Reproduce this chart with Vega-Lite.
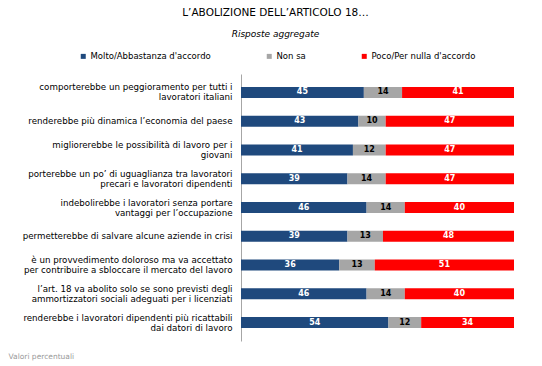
{
  "$schema": "https://vega.github.io/schema/vega-lite/v6.json",
  "autosize": {"type": "none"},
  "padding": {"left": 241, "top": 74, "right": 28, "bottom": 25},
  "width": 273,
  "height": 267,
  "background": "white",
  "config": {
    "view": {"stroke": null},
    "font": "DejaVu Sans"
  },
  "title": {
    "text": "L’ABOLIZIONE DELL’ARTICOLO 18…",
    "subtitle": "Risposte aggregate",
    "anchor": "middle",
    "dx": -102,
    "offset": 13,
    "font": "DejaVu Sans",
    "fontSize": 10.5,
    "fontWeight": "normal",
    "color": "#000000",
    "subtitleFont": "DejaVu Sans",
    "subtitleFontSize": 9,
    "subtitleFontStyle": "italic",
    "subtitleColor": "#000000",
    "subtitlePadding": 12
  },
  "data": {
    "values": [
      {"item": "comporterebbe un peggioramento per tutti i|lavoratori italiani", "risposta": "Molto/Abbastanza d'accordo", "k": 1, "v": 45},
      {"item": "comporterebbe un peggioramento per tutti i|lavoratori italiani", "risposta": "Non sa", "k": 2, "v": 14},
      {"item": "comporterebbe un peggioramento per tutti i|lavoratori italiani", "risposta": "Poco/Per nulla d'accordo", "k": 3, "v": 41},
      {"item": "renderebbe più dinamica l’economia del paese", "risposta": "Molto/Abbastanza d'accordo", "k": 1, "v": 43},
      {"item": "renderebbe più dinamica l’economia del paese", "risposta": "Non sa", "k": 2, "v": 10},
      {"item": "renderebbe più dinamica l’economia del paese", "risposta": "Poco/Per nulla d'accordo", "k": 3, "v": 47},
      {"item": "migliorerebbe le possibilità di lavoro per i|giovani", "risposta": "Molto/Abbastanza d'accordo", "k": 1, "v": 41},
      {"item": "migliorerebbe le possibilità di lavoro per i|giovani", "risposta": "Non sa", "k": 2, "v": 12},
      {"item": "migliorerebbe le possibilità di lavoro per i|giovani", "risposta": "Poco/Per nulla d'accordo", "k": 3, "v": 47},
      {"item": "porterebbe un po’ di uguaglianza tra lavoratori|precari e lavoratori dipendenti", "risposta": "Molto/Abbastanza d'accordo", "k": 1, "v": 39},
      {"item": "porterebbe un po’ di uguaglianza tra lavoratori|precari e lavoratori dipendenti", "risposta": "Non sa", "k": 2, "v": 14},
      {"item": "porterebbe un po’ di uguaglianza tra lavoratori|precari e lavoratori dipendenti", "risposta": "Poco/Per nulla d'accordo", "k": 3, "v": 47},
      {"item": "indebolirebbe i lavoratori senza portare|vantaggi per l’occupazione", "risposta": "Molto/Abbastanza d'accordo", "k": 1, "v": 46},
      {"item": "indebolirebbe i lavoratori senza portare|vantaggi per l’occupazione", "risposta": "Non sa", "k": 2, "v": 14},
      {"item": "indebolirebbe i lavoratori senza portare|vantaggi per l’occupazione", "risposta": "Poco/Per nulla d'accordo", "k": 3, "v": 40},
      {"item": "permetterebbe di salvare alcune aziende in crisi", "risposta": "Molto/Abbastanza d'accordo", "k": 1, "v": 39},
      {"item": "permetterebbe di salvare alcune aziende in crisi", "risposta": "Non sa", "k": 2, "v": 13},
      {"item": "permetterebbe di salvare alcune aziende in crisi", "risposta": "Poco/Per nulla d'accordo", "k": 3, "v": 48},
      {"item": "è un provvedimento doloroso ma va accettato|per contribuire a sbloccare il mercato del lavoro", "risposta": "Molto/Abbastanza d'accordo", "k": 1, "v": 36},
      {"item": "è un provvedimento doloroso ma va accettato|per contribuire a sbloccare il mercato del lavoro", "risposta": "Non sa", "k": 2, "v": 13},
      {"item": "è un provvedimento doloroso ma va accettato|per contribuire a sbloccare il mercato del lavoro", "risposta": "Poco/Per nulla d'accordo", "k": 3, "v": 51},
      {"item": "l’art. 18 va abolito solo se sono previsti degli|ammortizzatori sociali adeguati per i licenziati", "risposta": "Molto/Abbastanza d'accordo", "k": 1, "v": 46},
      {"item": "l’art. 18 va abolito solo se sono previsti degli|ammortizzatori sociali adeguati per i licenziati", "risposta": "Non sa", "k": 2, "v": 14},
      {"item": "l’art. 18 va abolito solo se sono previsti degli|ammortizzatori sociali adeguati per i licenziati", "risposta": "Poco/Per nulla d'accordo", "k": 3, "v": 40},
      {"item": "renderebbe i lavoratori dipendenti più ricattabili|dai datori di lavoro", "risposta": "Molto/Abbastanza d'accordo", "k": 1, "v": 54},
      {"item": "renderebbe i lavoratori dipendenti più ricattabili|dai datori di lavoro", "risposta": "Non sa", "k": 2, "v": 12},
      {"item": "renderebbe i lavoratori dipendenti più ricattabili|dai datori di lavoro", "risposta": "Poco/Per nulla d'accordo", "k": 3, "v": 34}
    ]
  },
  "encoding": {
    "y": {
      "field": "item",
      "type": "nominal",
      "sort": null,
      "scale": {"paddingInner": 0.62, "paddingOuter": 0.45},
      "axis": {
        "title": null,
        "ticks": false,
        "domain": true,
        "domainColor": "#a6a6a6",
        "domainWidth": 1,
        "labelExpr": "split(datum.label, '|')",
        "labelFont": "DejaVu Sans",
        "labelFontSize": 8.7,
        "labelColor": "#000000",
        "labelLimit": 260,
        "labelPadding": 9,
        "labelLineHeight": 10,
        "labelOffset": {"condition": {"test": "indexof(datum.label, '|') >= 0", "value": -5}, "value": 0}
      }
    }
  },
  "layer": [
    {
      "mark": {"type": "bar"},
      "encoding": {
        "x": {
          "field": "v",
          "type": "quantitative",
          "stack": "zero",
          "scale": {"domain": [0, 100], "nice": false},
          "axis": {
            "labels": false,
            "ticks": false,
            "domain": false,
            "grid": false,
            "title": "Valori percentuali",
            "titleFont": "DejaVu Sans",
            "titleFontSize": 7.5,
            "titleFontWeight": "normal",
            "titleColor": "#999999",
            "titleAnchor": "start",
            "titleAlign": "left",
            "titleBaseline": "middle",
            "titleX": -233,
            "titleY": 15
          }
        },
        "order": {"field": "k"},
        "color": {
          "field": "risposta",
          "type": "nominal",
          "scale": {
            "domain": ["Molto/Abbastanza d'accordo", "Non sa", "Poco/Per nulla d'accordo"],
            "range": ["#1F497D", "#A6A6A6", "#FF0000"]
          },
          "legend": {
            "title": null,
            "orient": "none",
            "direction": "horizontal",
            "legendX": -162,
            "legendY": -22,
            "padding": 0,
            "symbolType": "square",
            "symbolSize": 25,
            "symbolStrokeWidth": 0,
            "labelFont": "DejaVu Sans",
            "labelFontSize": 8.5,
            "labelColor": "#000000",
            "labelOffset": 3,
            "columnPadding": 54,
            "labelLimit": 300
          }
        }
      }
    },
    {
      "mark": {"type": "text", "font": "DejaVu Sans", "fontSize": 8, "fontWeight": "bold", "baseline": "middle"},
      "encoding": {
        "x": {"field": "v", "type": "quantitative", "stack": "zero", "bandPosition": 0.5},
        "order": {"field": "k"},
        "detail": {"field": "risposta"},
        "text": {"field": "v", "type": "quantitative"},
        "color": {
          "condition": {"test": "datum.risposta === 'Non sa'", "value": "#000000"},
          "value": "#FFFFFF"
        }
      }
    }
  ]
}
